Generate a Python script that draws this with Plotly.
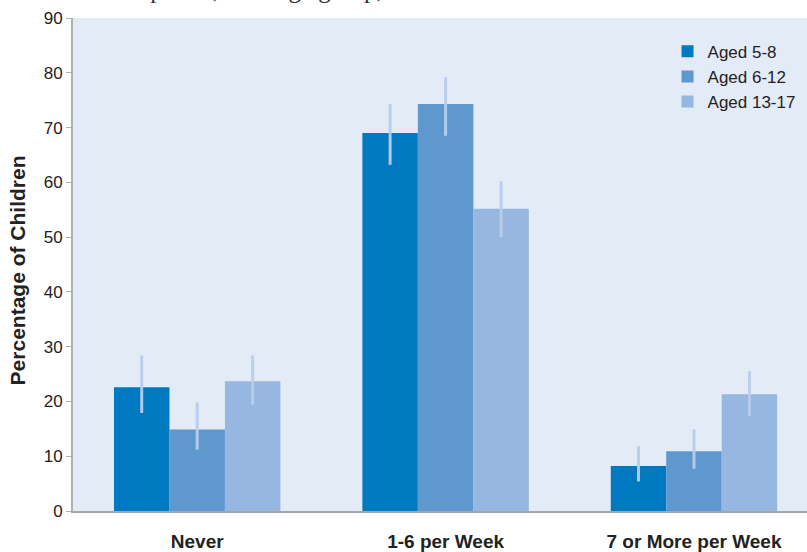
import plotly.graph_objects as go

# Frequency categories and age groups
categories = ["Never", "1-6 per Week", "7 or More per Week"]
series_names = ["Aged 5-8", "Aged 6-12", "Aged 13-17"]

# Percentages with lower / upper confidence limits
aged_5_8 = [22.6, 69.0, 8.2]
aged_5_8_low = [17.9, 63.2, 5.4]
aged_5_8_high = [28.4, 74.3, 11.8]

aged_6_12 = [14.9, 74.3, 10.9]
aged_6_12_low = [11.2, 68.5, 7.7]
aged_6_12_high = [19.8, 79.2, 14.9]

aged_13_17 = [23.7, 55.2, 21.3]
aged_13_17_low = [19.4, 50.0, 17.4]
aged_13_17_high = [28.4, 60.2, 25.5]

y_ticks = [0, 10, 20, 30, 40, 50, 60, 70, 80, 90]

colors = ["#0079c1", "#5e98cf", "#95b7e0"]
err_color = "rgba(184,206,234,0.95)"

fig = go.Figure()
groups = [
    (aged_5_8, aged_5_8_low, aged_5_8_high),
    (aged_6_12, aged_6_12_low, aged_6_12_high),
    (aged_13_17, aged_13_17_low, aged_13_17_high),
]
for name, color, (vals, low, high) in zip(series_names, colors, groups):
    fig.add_trace(go.Bar(
        name=name,
        x=categories,
        y=vals,
        marker=dict(color=color, line=dict(width=0)),
        error_y=dict(
            type="data",
            symmetric=False,
            array=[h - v for h, v in zip(high, vals)],
            arrayminus=[v - l for v, l in zip(vals, low)],
            color=err_color,
            thickness=3,
            width=0,
        ),
    ))

# Caption running off the top edge
fig.add_annotation(
    text="Participation, each age group, 2003",
    xref="paper", yref="paper", x=0.0136, y=1.0256,
    xanchor="left", yanchor="bottom", showarrow=False,
    font=dict(family="Liberation Serif", size=25, color="#333333"),
)

# Vertical axis title
fig.add_annotation(
    text="<b>Percentage of Children</b>",
    xref="paper", yref="paper", x=-0.0763, y=0.488,
    xanchor="center", yanchor="middle", textangle=-90, showarrow=False,
    font=dict(family="Liberation Sans, Arial, sans-serif", size=21, color="#222222"),
)

fig.update_layout(
    width=807, height=552,
    margin=dict(l=73, r=0, t=18, b=39),
    paper_bgcolor="white",
    plot_bgcolor="#e3ebf6",
    barmode="group",
    bargap=0.33,
    bargroupgap=0,
    font=dict(family="Liberation Sans, Arial, sans-serif", color="#222222"),
    showlegend=True,
    legend=dict(
        x=0.81, y=0.968, xanchor="left", yanchor="top",
        bgcolor="rgba(0,0,0,0)",
        font=dict(size=17, color="#222222"),
        tracegroupgap=0,
    ),
    xaxis=dict(
        type="category",
        range=[-0.5, 2.455],
        showgrid=False,
        showline=True, linecolor="#a6a6a6", linewidth=2,
        ticks="",
        ticklabelstandoff=12,
        tickfont=dict(size=19, color="#222222", family="Liberation Sans, Arial, sans-serif", weight="bold"),
    ),
    yaxis=dict(
        range=[0, 90],
        tickvals=y_ticks,
        showgrid=False, zeroline=False,
        showline=True, linecolor="#b0b0b0", linewidth=2,
        ticks="outside", ticklen=5, tickcolor="#b0b0b0", tickwidth=1,
        tickfont=dict(size=17, color="#222222"),
    ),
)

fig.write_html("out.html")
